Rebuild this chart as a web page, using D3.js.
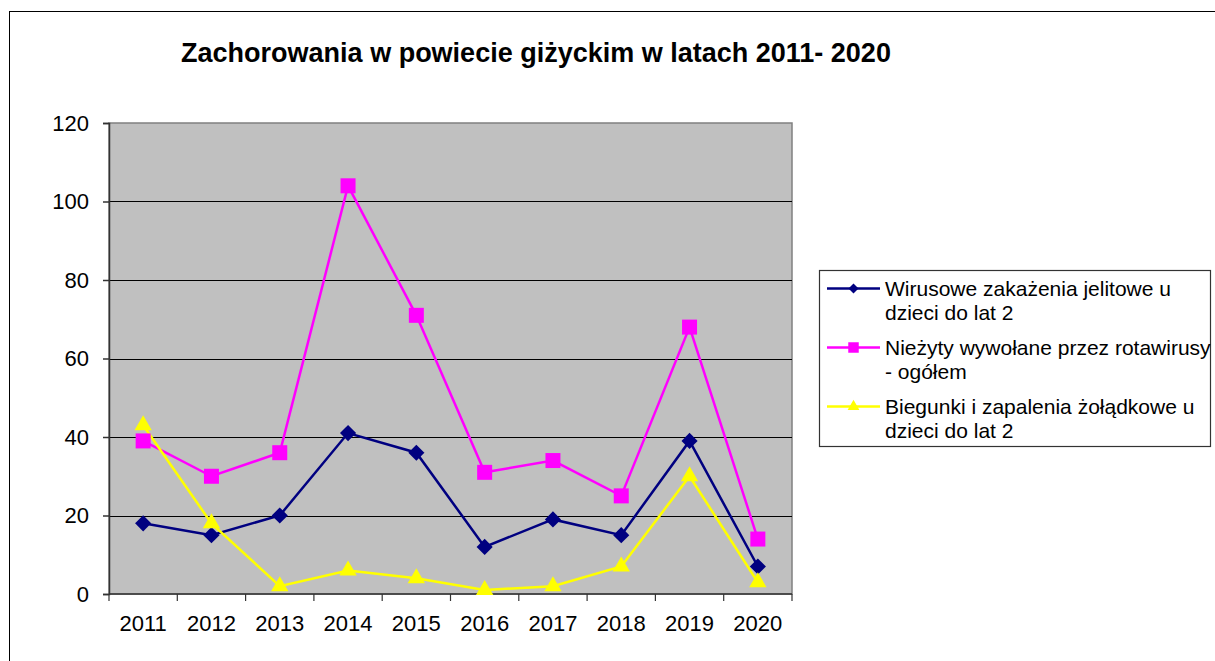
<!DOCTYPE html>
<html>
<head>
<meta charset="utf-8">
<script src="https://cdn.jsdelivr.net/npm/d3@7"></script>
<style>
  body { margin: 0; background: #fff; }
  svg { font-family: Arial, "Liberation Sans", sans-serif; }
</style>
</head>
<body>
<div id="chartDiv"></div>
<script>
var years = ["2011", "2012", "2013", "2014", "2015", "2016", "2017", "2018", "2019", "2020"];
var wirusowe = [18, 15, 20, 41, 36, 12, 19, 15, 39, 7];
var niezyty = [39, 30, 36, 104, 71, 31, 34, 25, 68, 14];
var biegunki = [43, 18, 2, 6, 4, 1, 2, 7, 30, 3];
var yTicks = [0, 20, 40, 60, 80, 100, 120];
var seriesNames = [
    ["Wirusowe zakażenia jelitowe u", "dzieci do lat 2"],
    ["Nieżyty wywołane przez rotawirusy", "- ogółem"],
    ["Biegunki i zapalenia żołądkowe u", "dzieci do lat 2"]
];

var width = 1215, height = 661;
var svg = d3.select("#chartDiv").append("svg")
    .attr("width", width).attr("height", height);

// outer chart frame
svg.append("rect")
    .attr("x", 9.5).attr("y", 11.5)
    .attr("width", 1220).attr("height", 700)
    .attr("fill", "#fff").attr("stroke", "#000");

svg.append("text")
    .attr("x", 536).attr("y", 62)
    .attr("text-anchor", "middle")
    .style("font-size", "27px").style("font-weight", "bold")
    .text("Zachorowania w powiecie giżyckim w latach 2011- 2020");

var plot = {left: 109, top: 123, right: 792, bottom: 594};

var x = d3.scaleBand().domain(years).range([plot.left, plot.right]);
var y = d3.scaleLinear().domain([0, 120]).range([plot.bottom, plot.top]);

// plot background
svg.append("rect")
    .attr("x", plot.left).attr("y", plot.top)
    .attr("width", plot.right - plot.left).attr("height", plot.bottom - plot.top)
    .attr("fill", "#c0c0c0").attr("stroke", "#808080").attr("stroke-width", 1.5);

// gridlines
svg.append("g").selectAll("line")
    .data(yTicks.slice(1, -1))
    .enter().append("line")
    .attr("x1", plot.left).attr("x2", plot.right)
    .attr("y1", function (d) { return Math.round(y(d)) + 0.5; })
    .attr("y2", function (d) { return Math.round(y(d)) + 0.5; })
    .attr("stroke", "#000").attr("stroke-width", 1);

// y axis
var yAxis = svg.append("g")
    .attr("transform", "translate(" + plot.left + ",0)")
    .call(d3.axisLeft(y).tickValues(yTicks).tickSize(6).tickPadding(14));
yAxis.selectAll("text").style("font-size", "22px").attr("fill", "#000");
yAxis.selectAll("line, path").attr("stroke", "#333").attr("stroke-width", 1.5);

// x axis: ticks at category boundaries
var xAxisG = svg.append("g").attr("transform", "translate(0," + plot.bottom + ")");
xAxisG.append("line")
    .attr("x1", plot.left).attr("x2", plot.right)
    .attr("stroke", "#333").attr("stroke-width", 1.5);
var bounds = years.map(function (d) { return x(d); }).concat([plot.right]);
xAxisG.selectAll(".tk").data(bounds).enter().append("line")
    .attr("x1", function (d) { return d; }).attr("x2", function (d) { return d; })
    .attr("y1", 0).attr("y2", 7)
    .attr("stroke", "#333").attr("stroke-width", 1.2);
xAxisG.selectAll("text").data(years).enter().append("text")
    .attr("x", function (d) { return x(d) + x.bandwidth() / 2; })
    .attr("y", 37)
    .attr("text-anchor", "middle")
    .style("font-size", "22px")
    .text(function (d) { return d; });

var cx = function (d, i) { return x(years[i]) + x.bandwidth() / 2; };
var line = d3.line().x(cx).y(function (d) { return y(d); });

// diamond drawn as a square turned 45 degrees
var series = [
    {values: wirusowe, color: "#000080", symbol: d3.symbolSquare, rot: 45, size: 130, lsize: 50},
    {values: niezyty, color: "#ff00ff", symbol: d3.symbolSquare, rot: 0, size: 225, lsize: 110},
    {values: biegunki, color: "#ffff00", symbol: d3.symbolTriangle, rot: 0, size: 130, lsize: 60}
];

series.forEach(function (s) {
    svg.append("path")
        .datum(s.values)
        .attr("d", line)
        .attr("fill", "none")
        .attr("stroke", s.color)
        .attr("stroke-width", 2.5);
});
series.forEach(function (s) {
    svg.append("g").selectAll("path")
        .data(s.values)
        .enter().append("path")
        .attr("transform", function (d, i) {
            return "translate(" + cx(d, i) + "," + y(d) + ") rotate(" + s.rot + ")";
        })
        .attr("d", d3.symbol().type(s.symbol).size(s.size))
        .attr("fill", s.color);
});

// legend
var legend = svg.append("g");
legend.append("rect")
    .attr("x", 819.5).attr("y", 270.5)
    .attr("width", 391).attr("height", 176)
    .attr("fill", "#fff").attr("stroke", "#333").attr("stroke-width", 1.2);

series.forEach(function (s, i) {
    var ly = 288.5 + i * 59;
    var g = legend.append("g");
    g.append("line")
        .attr("x1", 827).attr("x2", 880)
        .attr("y1", ly).attr("y2", ly)
        .attr("stroke", s.color).attr("stroke-width", 2.5);
    g.append("path")
        .attr("transform", "translate(853.5," + ly + ") rotate(" + s.rot + ")")
        .attr("d", d3.symbol().type(s.symbol).size(s.lsize))
        .attr("fill", s.color);
    seriesNames[i].forEach(function (t, j) {
        g.append("text")
            .attr("x", 885).attr("y", ly + 7 + j * 24)
            .style("font-size", "21px")
            .text(t);
    });
});
</script>
</body>
</html>
